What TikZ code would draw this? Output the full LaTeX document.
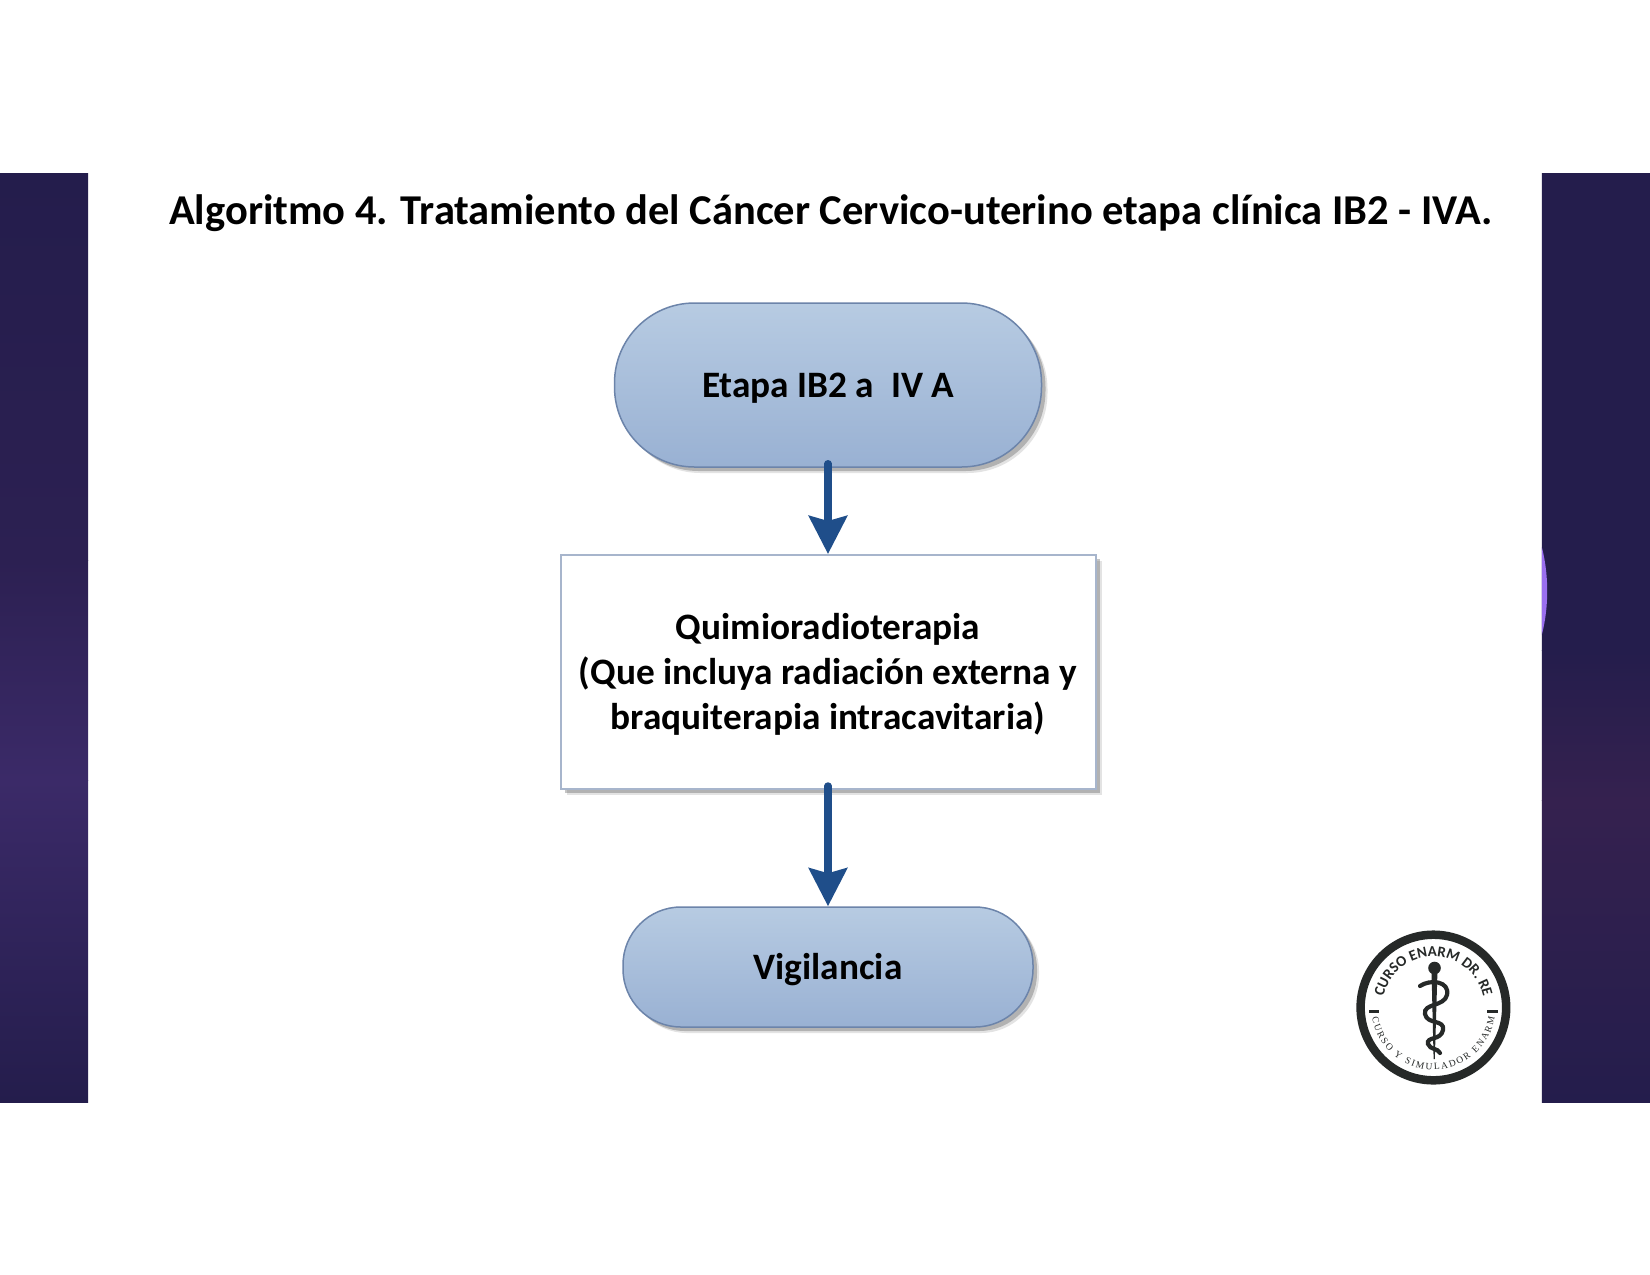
\documentclass[tikz,border=0pt]{standalone}
\usepackage{fontspec}
\setmainfont{Carlito}
\newfontfamily\logoserif{Liberation Serif}
\usetikzlibrary{shadows,decorations.text,arrows.meta,calc}
\definecolor{navy}{HTML}{241D4C}
\definecolor{violet}{HTML}{3B2A68}
\definecolor{plum}{HTML}{35214F}
\definecolor{midnavy}{HTML}{2C2052}
\definecolor{glow}{HTML}{9A6FF0}
\definecolor{pilltop}{HTML}{B7CBE2}
\definecolor{pillbot}{HTML}{99B1D3}
\definecolor{pillline}{HTML}{6C84AA}
\definecolor{arrowblue}{HTML}{1F4E8A}
\definecolor{ink}{HTML}{262928}
\newcommand{\boxtext}[1]{\raisebox{-3pt}[\height][\depth]{\begin{tabular}{@{}c@{}}#1\end{tabular}}}
\tikzset{
  softshadow/.style={
    general shadow={fill=black!60,opacity=.18,shadow xshift=6pt,shadow yshift=-6pt},
    general shadow={fill=black!70,opacity=.32,shadow xshift=4pt,shadow yshift=-4pt}},
  pillbox/.style={draw=pillline,line width=1.5pt,top color=pilltop,bottom color=pillbot,softshadow,align=center,font=\bfseries\fontsize{37.3}{45}\selectfont,text=black,rounded corners=#1},
  whitebox/.style={draw=pillline!60,line width=2pt,fill=white,softshadow,align=center,font=\bfseries\fontsize{37.3}{45}\selectfont,text=black},
  flow/.style={draw=arrowblue,line width=7.5pt,-{Stealth[length=38pt,width=38pt,inset=5pt]},line cap=round},
}
\begin{document}
\begin{tikzpicture}[x=1pt,y=-1pt]
\useasboundingbox (0,0) rectangle (1650,1275);
\fill[white] (0,0) rectangle (1650,1275);
% side panels
\shade[top color=navy,bottom color=midnavy] (0,173.2) rectangle (88.2,560.5);
\shade[top color=midnavy,bottom color=violet] (0,560) rectangle (88.2,780.5);
\shade[top color=violet,bottom color=navy] (0,780) rectangle (88.2,1102);
\shade[top color=navy,bottom color=navy] (1541.8,173.2) rectangle (1650,650.5);
\shade[top color=navy,bottom color=plum] (1541.8,650) rectangle (1650,800.5);
\shade[top color=plum,bottom color=navy] (1541.8,800) rectangle (1650,1102);
\fill[glow] (1541.8,547) .. controls (1549,575) and (1549,607) .. (1541.8,635) -- cycle;
% title
\node[font=\bfseries\fontsize{42.5}{48}\selectfont,text=black,anchor=center] (title) at (831,213) {Algoritmo 4. Tratamiento del Cáncer Cervico-uterino etapa clínica IB2 - IVA.};
% flow
\node[pillbox=80pt,minimum width=427pt,minimum height=164pt,inner sep=0pt] (start) at (828,385) {\boxtext{Etapa IB2 a\ \ IV A}};
\node[whitebox,minimum width=535pt,minimum height=234pt,inner sep=0pt] (chemo) at (828,672) {\boxtext{Quimioradioterapia\\(Que incluya radiación externa y\\braquiterapia intracavitaria)}};
\node[pillbox=58pt,minimum width=410pt,minimum height=120pt,inner sep=0pt] (watch) at (828,967) {\boxtext{Vigilancia}};
\draw[flow] ([yshift=4pt]start.south) -- (chemo.north);
\draw[flow] ([yshift=4pt]chemo.south) -- (watch.north);
% logo
\coordinate (logo) at (1433.4,1007.5);
\draw[ink,line width=8.5pt,fill=white] (logo) circle[radius=72.8];
\path[postaction={decorate,decoration={text along path,text align=center,text={|\bfseries\fontsize{15}{17}\selectfont\color{ink}|CURSO ENARM DR. RE}}}]
  ($(logo)+(-170:51)$) arc[start angle=-170,end angle=-10,radius=51];
\path[postaction={decorate,decoration={text along path,text align={fit to path},text={|\logoserif\fontsize{9.5}{11}\selectfont\color{ink}|CURSO Y SIMULADOR ENARM}}}]
  ($(logo)+(171:62)$) arc[start angle=171,end angle=9,radius=62];
\draw[ink,line width=2.4pt] (1369,1011.5) -- (1379,1011.5) (1487,1011.5) -- (1498,1011.5);
\fill[ink] (1434.5,968) circle[radius=6.3];
\fill[ink] (1431.5,970) -- (1437.5,970) -- (1434.8,1059) -- (1433.6,1059) -- cycle;
\draw[ink,line width=4.2pt,line cap=round] (1420,986) .. controls (1430,979) and (1450,981) .. (1447,995)
  .. controls (1444,1007) and (1423,1003) .. (1425,1014)
  .. controls (1427,1025) and (1445,1019) .. (1443,1030)
  .. controls (1441,1041) and (1426,1036) .. (1428,1044)
  .. controls (1430,1050) and (1438,1048) .. (1440,1053);
\end{tikzpicture}
\end{document}
